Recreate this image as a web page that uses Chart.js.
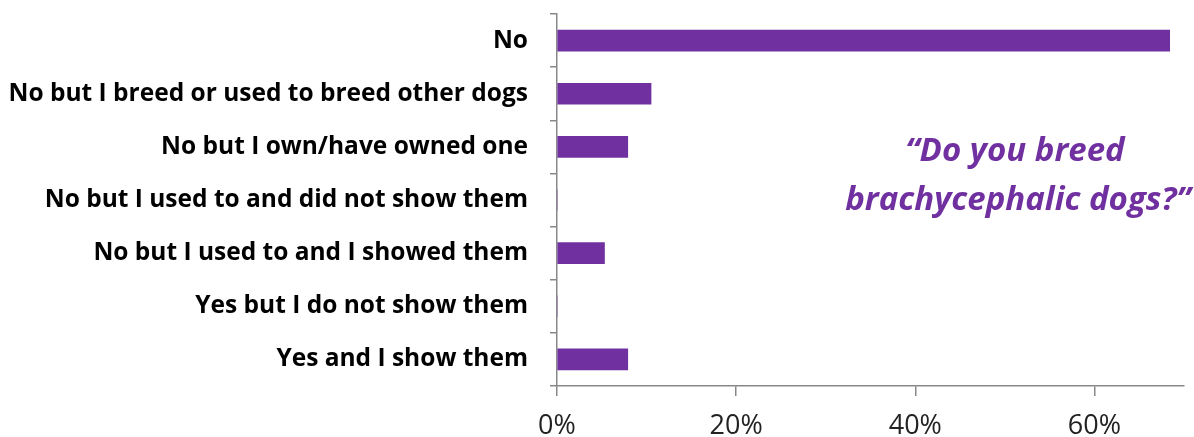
<!DOCTYPE html>
<html>
<head>
<meta charset="utf-8">
<script src="https://cdn.jsdelivr.net/npm/chart.js@4"></script>
<style>
  html, body { margin: 0; padding: 0; background: #fff; }
  #wrap { width: 1194px; height: 437px; }
</style>
</head>
<body>
<div id="wrap"><canvas id="chart" width="1194" height="437"></canvas></div>
<script>
// data
const categories = [
  "No",
  "No but I breed or used to breed other dogs",
  "No but I own/have owned one",
  "No but I used to and did not show them",
  "No but I used to and I showed them",
  "Yes but I do not show them",
  "Yes and I show them"
];
const percentages = [68.4, 10.5, 7.9, 0, 5.3, 0, 7.9];
const tickValues = [0, 20, 40, 60];
const question = ["\u201CDo you breed", "brachycephalic dogs?\u201D"];

const purple = "#7030A0";
const axisGrey = "#888888";

// draws the quoted question on the right
const questionText = {
  id: "questionText",
  afterDraw(chart) {
    const ctx = chart.ctx;
    ctx.save();
    ctx.fillStyle = purple;
    ctx.font = "italic bold 33px 'Open Sans'";
    ctx.textAlign = "center";
    ctx.textBaseline = "middle";
    ctx.fillText(question[0], 1015, 152);
    ctx.fillText(question[1], 1018, 201);
    ctx.restore();
  }
};

new Chart(document.getElementById("chart").getContext("2d"), {
  type: "bar",
  data: {
    labels: categories,
    datasets: [{
      data: percentages,
      backgroundColor: purple,
      borderWidth: 0,
      barThickness: 21
    }]
  },
  options: {
    indexAxis: "y",
    responsive: false,
    animation: false,
    layout: { padding: { top: 14, right: 10, bottom: 0 } },
    plugins: {
      legend: { display: false },
      tooltip: { enabled: false }
    },
    scales: {
      x: {
        min: 0,
        max: 70,
        afterBuildTicks: (scale) => {
          scale.ticks = tickValues.map(v => ({ value: v }));
        },
        // labels run to the bottom edge like in the original
        afterFit: (scale) => { scale.height = 51; },
        grid: {
          drawOnChartArea: false,
          drawTicks: true,
          tickLength: 10,
          color: axisGrey,
          lineWidth: 1.5
        },
        border: { color: axisGrey, width: 1.5 },
        ticks: {
          padding: 14,
          color: "#222",
          font: { family: "'Open Sans'", size: 27 },
          callback: (v) => v + "%"
        }
      },
      y: {
        afterFit: (scale) => {
          scale.width = 557;
          scale.paddingTop = 0;
          scale.paddingBottom = 0;
        },
        grid: {
          offset: true,
          drawOnChartArea: false,
          drawTicks: true,
          tickLength: 7,
          color: axisGrey,
          lineWidth: 1.5
        },
        border: { color: axisGrey, width: 1.5 },
        ticks: {
          padding: 22,
          color: "#000",
          font: { family: "'Open Sans'", size: 24.5, weight: "bold" }
        }
      }
    }
  },
  plugins: [questionText]
});
</script>
</body>
</html>
